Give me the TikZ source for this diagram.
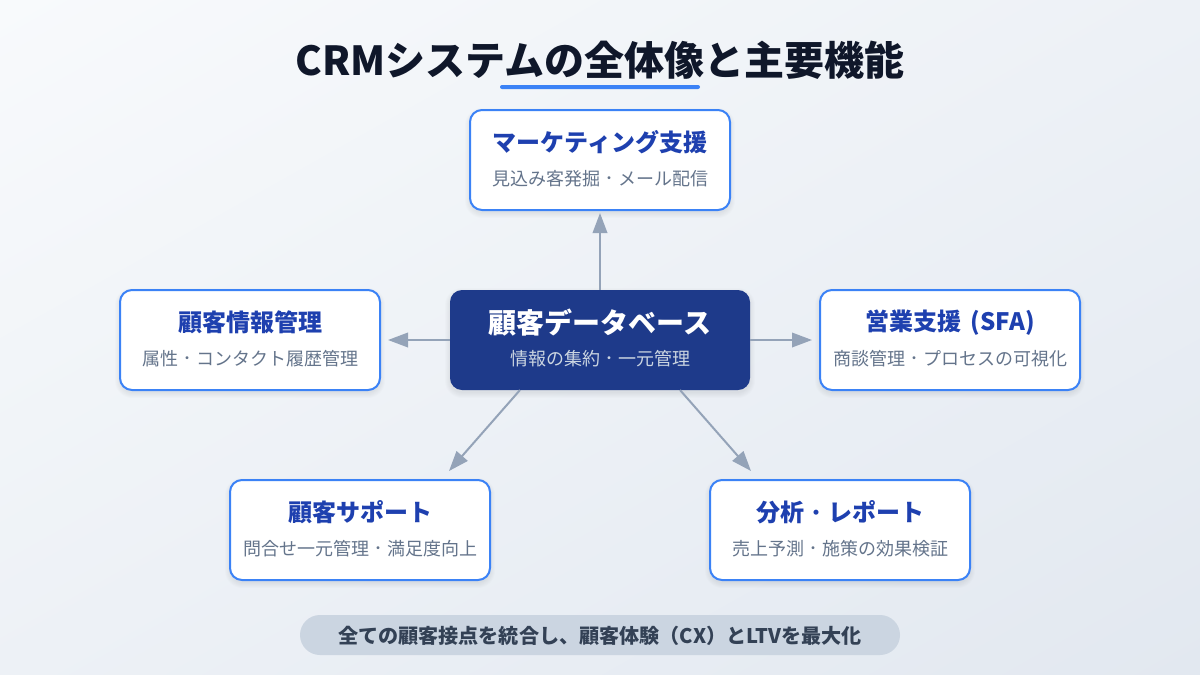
\documentclass[tikz,border=0pt]{standalone}
\usepackage{fontspec}
\setmainfont{Noto Sans CJK JP}
\newcommand{\nakaguro}[1]{\makebox[#1pt]{\raisebox{0.1\dimexpr #1pt\relax}{\fontsize{\numexpr #1*3/4\relax}{#1}\selectfont ・}}}
\usetikzlibrary{arrows.meta,shadings}
\definecolor{bgA}{HTML}{F8FAFC}
\definecolor{bgB}{HTML}{E2E8F0}
\colorlet{bgM}{bgA!50!bgB}
\definecolor{ink}{HTML}{0F172A}
\definecolor{accent}{HTML}{3B82F6}
\definecolor{navy}{HTML}{1E3A8A}
\definecolor{headblue}{HTML}{1E40AF}
\definecolor{subgrey}{HTML}{64748B}
\definecolor{subpale}{HTML}{CBD5E1}
\definecolor{linkgrey}{HTML}{94A3B8}
\definecolor{pill}{HTML}{CBD5E1}
\definecolor{pillink}{HTML}{334155}
\newcommand{\fs}[1]{\fontsize{#1}{#1}\selectfont}
\newcommand{\softshadow}[4]{%
  \foreach \g in {5,4,3,2,1,0}{%
    \fill[black,opacity=0.012,rounded corners=12+\g]
      (#1-\g,#2+3-\g) rectangle (#3+\g,#4+3+\g);}}
\tikzset{
  x=1pt,y=-1pt,
  cardbox/.style={draw=accent,line width=2pt,fill=white,rounded corners=12pt,inner sep=0pt,
    minimum height=100pt,minimum width=260pt},
  corebox/.style={fill=navy,rounded corners=12pt,inner sep=0pt,
    minimum height=100pt,minimum width=300pt},
  cardhead/.style={inner sep=0pt,text=headblue,font=\fs{24}\bfseries},
  cardsub/.style={inner sep=0pt,text=subgrey,font=\fs{18}},
  corehead/.style={inner sep=0pt,text=white,font=\fs{28}\bfseries},
  coresub/.style={inner sep=0pt,text=subpale,font=\fs{18}},
  link/.style={draw=linkgrey,line width=2pt,-{Triangle[length=20pt,width=14.5pt]}},
}
\begin{document}
\begin{tikzpicture}
\useasboundingbox (0,0) rectangle (1200,675);
\clip (0,0) rectangle (1200,675);
\shade[upper left=bgA,lower right=bgB,upper right=bgM,lower left=bgM] (0,0) rectangle (1200,675);

\node[inner sep=0pt,text=ink,font=\fs{40}\bfseries] (title) at (600,60.5) {CRMシステムの全体像と主要機能};
\fill[accent,rounded corners=2pt] (500,85) rectangle (700,89);

\softshadow{470}{110}{730}{210}
\softshadow{120}{290}{380}{390}
\softshadow{820}{290}{1080}{390}
\softshadow{230}{480}{490}{580}
\softshadow{710}{480}{970}{580}
\softshadow{450}{290}{750}{390}

\node[corebox] (core) at (600,340) {};
\node[cardbox] (mkt) at (600,160) {};
\node[cardbox] (info) at (250,340) {};
\node[cardbox] (sfa) at (950,340) {};
\node[cardbox] (sup) at (360,530) {};
\node[cardbox] (ana) at (840,530) {};

\coordinate (mktTip) at (600,213);
\coordinate (infoTip) at (388,340);
\coordinate (sfaTip) at (812,340);
\coordinate (supTip) at (449,471);
\coordinate (anaTip) at (751,471);
\coordinate (coreBL) at (520,390);
\coordinate (coreBR) at (680,390);

\draw[link] (core.north) -- (mktTip);
\draw[link] (core.west) -- (infoTip);
\draw[link] (core.east) -- (sfaTip);
\draw[link] (coreBL) -- (supTip);
\draw[link] (coreBR) -- (anaTip);

\node[corehead] (coreT) at (600,322.5) {顧客データベース};
\node[coresub] (coreS) at (600,358.5) {情報の集約\nakaguro{18}一元管理};
\node[cardhead] (mktT) at (600,142.5) {マーケティング支援};
\node[cardsub] (mktS) at (600,178.5) {見込み客発掘\nakaguro{18}メール配信};
\node[cardhead] (infoT) at (250,322.5) {顧客情報管理};
\node[cardsub] (infoS) at (250,358.5) {属性\nakaguro{18}コンタクト履歴管理};
\node[cardhead] (sfaT) at (950,322.5) {営業支援\hspace{4pt} (SFA)};
\node[cardsub] (sfaS) at (950,358.5) {商談管理\nakaguro{18}プロセスの可視化};
\node[cardhead] (supT) at (360,512.5) {顧客サポート};
\node[cardsub] (supS) at (360,548.5) {問合せ一元管理\nakaguro{18}満足度向上};
\node[cardhead] (anaT) at (840,512.5) {分析\nakaguro{24}レポート};
\node[cardsub] (anaS) at (840,548.5) {売上予測\nakaguro{18}施策の効果検証};

\node[fill=pill,rounded corners=20pt,minimum width=600pt,minimum height=40pt,inner sep=0pt] (bar) at (600,635) {};
\node[inner sep=0pt,text=pillink,font=\fs{20.1}\bfseries] (barT) at (600,635.5) {全ての顧客接点を統合し、顧客体験（CX）とLTVを最大化};
\end{tikzpicture}
\end{document}
